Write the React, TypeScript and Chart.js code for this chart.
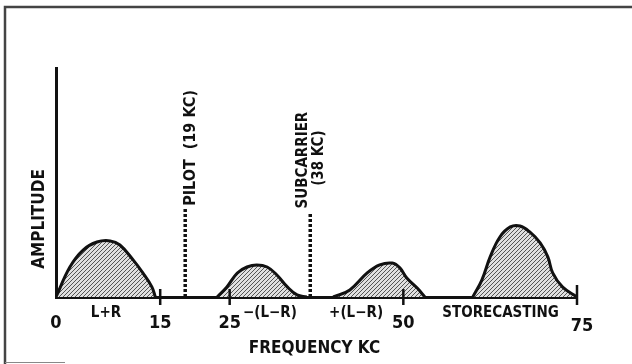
import React, { useEffect, useRef } from "react";
import { Chart, registerables } from "chart.js";

Chart.register(...registerables);

// ---- data (frequency in kC, amplitude in relative units 0..100) ----
const lrFreq = [0, 2.0, 3.9, 5.9, 7.8, 9.2, 11.1, 12.5, 13.8, 14.3];
const lrAmp = [0, 13.1, 20.5, 24.0, 24.5, 22.7, 16.2, 10.5, 4.4, 0];

const minusFreq = [23.2, 24.6, 26.1, 27.5, 28.9, 30.4, 31.8, 33.3, 34.7, 36.1];
const minusAmp = [0, 4.4, 10.5, 13.1, 14.0, 13.1, 9.6, 4.4, 0.9, 0];

const plusFreq = [39.9, 42.3, 44.8, 46.6, 48.4, 49.5, 50.5, 52.0, 53.1];
const plusAmp = [0, 3.1, 10.5, 14.0, 14.8, 12.7, 8.3, 3.9, 0];

const storeFreq = [60.0, 61.3, 62.5, 63.9, 65.4, 66.8, 68.2, 69.7, 70.8, 71.5, 72.9, 75.0];
const storeAmp = [0, 7.4, 17.5, 26.2, 30.6, 31.0, 28.4, 23.6, 17.5, 10.5, 4.4, 0];

const pilotFreq = 18.6;
const pilotHeight = 38.9;
const subcarrierFreq = 36.6;
const subcarrierHeight = 36.2;

const tickValues = [0, 15, 25, 50, 75];
const tickLabels = ["0", "15", "25", "50", "75"];
const markValues = [15, 25, 50, 75];

const bandLabels = ["L+R", "\u2212(L\u2212R)", "+(L\u2212R)", "STORECASTING"];
const bandLabelFreq = [7.2, 30.8, 43.2, 64.0];

const pilotLabel = "PILOT  (19 KC)";
const subLabel1 = "SUBCARRIER";
const subLabel2 = "(38 KC)";
const xTitle = "FREQUENCY KC";
const yTitle = "AMPLITUDE";

const FONT = '"Liberation Sans Narrow", "DejaVu Sans Condensed", Arial, sans-serif';

function pts(xs: number[], ys: number[]) {
  return xs.map((x, i) => ({ x, y: ys[i] }));
}

export default function App() {
  const ref = useRef<HTMLCanvasElement | null>(null);

  useEffect(() => {
    document.body.style.margin = "0";
    const canvas = ref.current!;
    // hatch pattern
    const pc = document.createElement("canvas");
    pc.width = 4;
    pc.height = 4;
    const p = pc.getContext("2d")!;
    p.fillStyle = "#e0e0e0";
    p.fillRect(0, 0, 4, 4);
    p.strokeStyle = "#555";
    p.lineWidth = 1;
    p.beginPath();
    p.moveTo(-1, 5);
    p.lineTo(5, -1);
    p.moveTo(-1, 1);
    p.lineTo(1, -1);
    p.moveTo(3, 5);
    p.lineTo(5, 3);
    p.stroke();
    const hatch = canvas.getContext("2d")!.createPattern(pc, "repeat")!;

    const hump = (xs: number[], ys: number[]) => ({
      data: pts(xs, ys),
      borderColor: "#111",
      borderWidth: 3,
      backgroundColor: hatch,
      fill: "origin",
      tension: 0.4,
      pointRadius: 0,
    });
    const vline = (x: number, h: number) => ({
      data: [
        { x, y: 0 },
        { x, y: h },
      ],
      borderColor: "#111",
      borderWidth: 3.5,
      borderDash: [3, 2],
      fill: false,
      pointRadius: 0,
    });

    const decor = {
      id: "decor",
      beforeDraw(chart: any) {
        const c = chart.ctx;
        c.save();
        c.fillStyle = "#fff";
        c.fillRect(0, 0, chart.width, chart.height);
        c.strokeStyle = "#444";
        c.lineWidth = 2.5;
        c.beginPath();
        c.moveTo(5, 364);
        c.lineTo(5, 7);
        c.lineTo(632, 7);
        c.stroke();
        c.lineWidth = 1;
        c.strokeStyle = "#888";
        c.beginPath();
        c.moveTo(5, 362.5);
        c.lineTo(65, 362.5);
        c.stroke();
        c.restore();
      },
      afterDraw(chart: any) {
        const c = chart.ctx;
        const xs = chart.scales.x;
        const ys = chart.scales.y;
        const base = ys.getPixelForValue(0);
        c.save();
        c.fillStyle = "#111";
        c.strokeStyle = "#111";
        // tick marks
        c.lineWidth = 2.5;
        markValues.forEach((v) => {
          const px = xs.getPixelForValue(v);
          c.beginPath();
          c.moveTo(px, base - (v === 75 ? 12 : 8));
          c.lineTo(px, base + 8);
          c.stroke();
        });
        // tick labels
        c.textAlign = "center";
        c.textBaseline = "middle";
        c.font = `bold 18px ${FONT}`;
        tickValues.forEach((v, i) => {
          const px = xs.getPixelForValue(v);
          c.fillText(tickLabels[i], px + (v === 75 ? 5 : 0), base + (v === 75 ? 29 : 26));
        });
        // band labels
        c.font = `bold 15px ${FONT}`;
        bandLabels.forEach((t, i) => {
          c.fillText(t, xs.getPixelForValue(bandLabelFreq[i]), base + 16);
        });
        // x title
        c.font = `bold 17px ${FONT}`;
        c.fillText(xTitle, (xs.left + xs.right) / 2 - 2, base + 52);
        // rotated labels
        const rot = (t: string, x: number, y: number, size: number) => {
          c.save();
          c.translate(x, y);
          c.rotate(-Math.PI / 2);
          c.font = `bold ${size}px ${FONT}`;
          c.fillText(t, 0, 0);
          c.restore();
        };
        rot(yTitle, xs.left - 16, base - 78, 17);
        const pilotPx = xs.getPixelForValue(pilotFreq);
        rot(pilotLabel, pilotPx + 6, ys.getPixelForValue(pilotHeight) - 60, 16);
        const subPx = xs.getPixelForValue(subcarrierFreq);
        rot(subLabel1, subPx - 7, ys.getPixelForValue(subcarrierHeight) - 54, 15);
        rot(subLabel2, subPx + 9, ys.getPixelForValue(subcarrierHeight) - 56, 15);
        c.restore();
      },
    };

    const chart = new Chart(canvas, {
      type: "line",
      data: {
        datasets: [
          hump(lrFreq, lrAmp),
          hump(minusFreq, minusAmp),
          hump(plusFreq, plusAmp),
          hump(storeFreq, storeAmp),
          vline(pilotFreq, pilotHeight),
          vline(subcarrierFreq, subcarrierHeight),
        ] as any,
      },
      options: {
        animation: false,
        responsive: false,
        layout: { padding: { left: 56, right: 55, top: 68, bottom: 67 } },
        plugins: { legend: { display: false }, tooltip: { enabled: false } },
        scales: {
          x: {
            type: "linear",
            min: 0,
            max: 75,
            ticks: { display: false },
            grid: { display: false, drawTicks: false },
            border: { display: true, width: 3, color: "#111" },
          },
          y: {
            type: "linear",
            min: 0,
            max: 100,
            ticks: { display: false },
            grid: { display: false, drawTicks: false },
            border: { display: true, width: 3, color: "#111" },
          },
        },
      },
      plugins: [decor],
    });
    return () => chart.destroy();
  }, []);

  return (
    <div style={{ width: 632, height: 364 }}>
      <canvas ref={ref} width={632} height={364} style={{ display: "block" }} />
    </div>
  );
}
